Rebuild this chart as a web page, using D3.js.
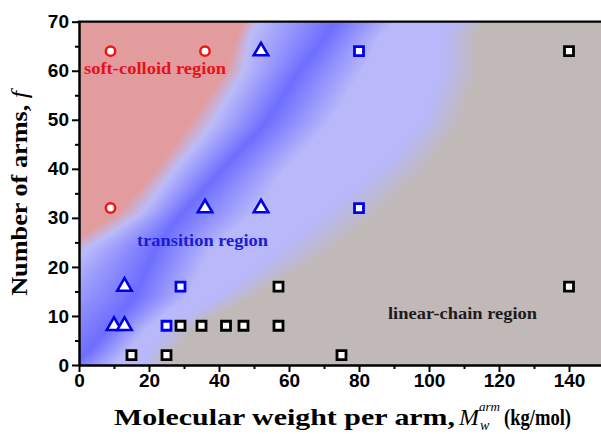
<!DOCTYPE html>
<html>
<head>
<meta charset="utf-8">
<script src="https://cdn.jsdelivr.net/npm/d3@7"></script>
<style>
  body { margin: 0; background: #fff; }
  svg { display: block; }
</style>
</head>
<body>
<svg id="chart" width="601" height="434"></svg>
<script>
// Star-polymer samples: molecular weight per arm (kg/mol) and number of arms f
const softColloidM = [9, 36, 9];
const softColloidF = [64, 64, 32];
const transitionTriM = [52, 36, 52, 13, 10, 13];
const transitionTriF = [64, 32, 32, 16, 8, 8];
const transitionSqM = [80, 80, 29, 25];
const transitionSqF = [64, 32, 16, 8];
const linearM = [140, 140, 57, 29, 35, 42, 47, 57, 15, 25, 75];
const linearF = [64, 16, 16, 8, 8, 8, 8, 8, 2, 2, 2];

const xTicks = [0, 20, 40, 60, 80, 100, 120, 140];
const xMinor = [10, 30, 50, 70, 90, 110, 130, 150];
const yTicks = [0, 10, 20, 30, 40, 50, 60, 70];
const yMinor = [5, 15, 25, 35, 45, 55, 65];

// Regime map: for each f, the arm weight (kg/mol) where each colour stop sits
const bandF     = [0,   3,   8,  14,  24,  31,   40,  49,  60,  67,   70];
const redEdge   = [-45, -40, -32, -22, -5,  11,   22,  31,  42,  45,   47];
const lavEdge   = [-35, -30, -22, -12,  3,  18, 27.5,  38,  47,  49,   51];
const darkCore  = [-2,   3,   9,  16,  22, 29.5,  41,  53,  63, 70.5,  73];
const paleStart = [10,  14,  20,  31,  38,  50,   59,  71,  81,  86,   90];
const paleEnd   = [18,  20,  26,  40,  58,  70,   86,  98, 104, 104,  108];
const greyEdge  = [26,  28,  34,  50,  74,  86,  100, 109, 114, 114,  116];
const regionColors = ["#e29c9e", "#bcbcf9", "#6e6eff", "#b8b8fa", "#b8b8fa", "#c1b9b8"];

const svg = d3.select("#chart");
const W = 601, H = 434;
svg.append("rect").attr("width", W).attr("height", H).attr("fill", "#fff");

const x = d3.scaleLinear().domain([0, 150]).range([79, 604]);
const y = d3.scaleLinear().domain([0, 70]).range([365, 21.7]);

// ---- background regime map, painted pixel by pixel ----
const plotLeft = x(0), plotTop = y(70);
const pw = Math.ceil(x(150) - plotLeft), ph = Math.ceil(y(0) - plotTop);
const canvas = document.createElement("canvas");
canvas.width = pw; canvas.height = ph;
const ctx = canvas.getContext("2d");
const img = ctx.createImageData(pw, ph);
const rgbStops = regionColors.map(c => d3.rgb(c));
const edgeScales = [redEdge, lavEdge, darkCore, paleStart, paleEnd, greyEdge]
  .map(arr => d3.scaleLinear().domain(bandF).range(arr));
for (let py = 0; py < ph; py++) {
  const f = y.invert(plotTop + py + 0.5);
  const stops = edgeScales.map(s => s(f));
  const rs = d3.scaleLinear().domain(stops).range(rgbStops.map(c => c.r)).clamp(true);
  const gs = d3.scaleLinear().domain(stops).range(rgbStops.map(c => c.g)).clamp(true);
  const bs = d3.scaleLinear().domain(stops).range(rgbStops.map(c => c.b)).clamp(true);
  for (let px = 0; px < pw; px++) {
    const m = x.invert(plotLeft + px + 0.5);
    const i = (py * pw + px) * 4;
    img.data[i] = rs(m);
    img.data[i + 1] = gs(m);
    img.data[i + 2] = bs(m);
    img.data[i + 3] = 255;
  }
}
ctx.putImageData(img, 0, 0);
svg.append("image")
  .attr("x", plotLeft).attr("y", plotTop)
  .attr("width", pw).attr("height", ph)
  .attr("preserveAspectRatio", "none")
  .attr("href", canvas.toDataURL());

// ---- region labels ----
const serif = "'Liberation Serif', 'DejaVu Serif', serif";
svg.append("text").attr("x", 84).attr("y", 74)
  .attr("font-family", serif).attr("font-weight", "bold").attr("font-size", 17)
  .attr("fill", "#e8101a").attr("textLength", 142).attr("lengthAdjust", "spacingAndGlyphs")
  .text("soft-colloid region");
svg.append("text").attr("x", 137).attr("y", 246)
  .attr("font-family", serif).attr("font-weight", "bold").attr("font-size", 17)
  .attr("fill", "#1c1cd4").attr("textLength", 131).attr("lengthAdjust", "spacingAndGlyphs")
  .text("transition region");
svg.append("text").attr("x", 388).attr("y", 319)
  .attr("font-family", serif).attr("font-weight", "bold").attr("font-size", 17)
  .attr("fill", "#1e1a1a").attr("textLength", 149).attr("lengthAdjust", "spacingAndGlyphs")
  .text("linear-chain region");

// ---- axes ----
const sans = "'Liberation Sans', Arial, sans-serif";
function styleAxis(g) {
  g.select(".domain").attr("stroke", "#000").attr("stroke-width", 2.5);
  g.selectAll(".tick line").attr("stroke", "#000").attr("stroke-width", 2);
  g.selectAll(".tick text").attr("font-family", sans).attr("font-weight", "bold")
    .attr("font-size", 19).attr("fill", "#000");
}
const xAxis = svg.append("g").attr("transform", `translate(0,${y(0)})`)
  .call(d3.axisBottom(x).tickValues(xTicks).tickSize(7).tickSizeOuter(0).tickPadding(2).tickFormat(d3.format("d")));
styleAxis(xAxis);
svg.append("g").attr("transform", `translate(0,${y(0)})`)
  .call(d3.axisBottom(x).tickValues(xMinor).tickSize(4).tickSizeOuter(0).tickFormat(""))
  .call(g => { g.select(".domain").remove(); g.selectAll("line").attr("stroke", "#000").attr("stroke-width", 2); });

const yAxis = svg.append("g").attr("transform", `translate(${x(0)},0)`)
  .call(d3.axisLeft(y).tickValues(yTicks).tickSize(7).tickSizeOuter(0).tickPadding(3).tickFormat(d3.format("d")));
styleAxis(yAxis);
svg.append("g").attr("transform", `translate(${x(0)},0)`)
  .call(d3.axisLeft(y).tickValues(yMinor).tickSize(4).tickSizeOuter(0).tickFormat(""))
  .call(g => { g.select(".domain").remove(); g.selectAll("line").attr("stroke", "#000").attr("stroke-width", 2); });

// top frame line
svg.append("line").attr("x1", x(0) - 1.25).attr("x2", x(150))
  .attr("y1", y(70)).attr("y2", y(70)).attr("stroke", "#000").attr("stroke-width", 2.2);

// ---- sample markers ----
const pts = (ms, fs) => ms.map((m, i) => ({ m, f: fs[i] }));
const tri = d3.symbol(d3.symbolTriangle, 90)();
const sq = d3.symbol(d3.symbolSquare, 81)();

svg.append("g").selectAll("circle").data(pts(softColloidM, softColloidF)).join("circle")
  .attr("cx", d => x(d.m)).attr("cy", d => y(d.f)).attr("r", 4.7)
  .attr("fill", "#fff").attr("stroke", "#f01414").attr("stroke-width", 2.5);

svg.append("g").selectAll("path").data(pts(transitionTriM, transitionTriF)).join("path")
  .attr("d", tri).attr("transform", d => `translate(${x(d.m)},${y(d.f)})`)
  .attr("fill", "#fff").attr("stroke", "#0000e6").attr("stroke-width", 2.6)
  .attr("stroke-linejoin", "miter");

svg.append("g").selectAll("path").data(pts(transitionSqM, transitionSqF)).join("path")
  .attr("d", sq).attr("transform", d => `translate(${x(d.m)},${y(d.f)})`)
  .attr("fill", "#fff").attr("stroke", "#0000f0").attr("stroke-width", 2.8);

svg.append("g").selectAll("path").data(pts(linearM, linearF)).join("path")
  .attr("d", sq).attr("transform", d => `translate(${x(d.m)},${y(d.f)})`)
  .attr("fill", "#fff").attr("stroke", "#000").attr("stroke-width", 2.8);

// ---- axis titles ----
const xt = svg.append("g").attr("font-family", serif).attr("font-weight", "bold").attr("fill", "#000");
xt.append("text").attr("x", 114).attr("y", 425).attr("font-size", 24)
  .attr("textLength", 341).attr("lengthAdjust", "spacingAndGlyphs")
  .text("Molecular weight per arm,");
xt.append("text").attr("x", 459).attr("y", 425).attr("font-size", 24)
  .attr("font-style", "italic").attr("font-weight", "normal").text("M");
xt.append("text").attr("x", 479).attr("y", 411).attr("font-size", 13)
  .attr("font-style", "italic").attr("font-weight", "normal").text("arm");
xt.append("text").attr("x", 480).attr("y", 430).attr("font-size", 14)
  .attr("font-style", "italic").attr("font-weight", "normal").text("w");
xt.append("text").attr("x", 504).attr("y", 425).attr("font-size", 24)
  .attr("textLength", 67).attr("lengthAdjust", "spacingAndGlyphs")
  .text("(kg/mol)");

const yt = svg.append("text")
  .attr("transform", `translate(27,${(y(0) + y(70)) / 2}) rotate(-90)`)
  .attr("text-anchor", "middle")
  .attr("font-family", serif).attr("font-weight", "bold").attr("font-size", 23)
  .attr("fill", "#000").attr("textLength", 205).attr("lengthAdjust", "spacingAndGlyphs");
yt.append("tspan").text("Number of arms, ");
yt.append("tspan").attr("font-style", "italic").attr("font-weight", "normal").text("f");
</script>
</body>
</html>
